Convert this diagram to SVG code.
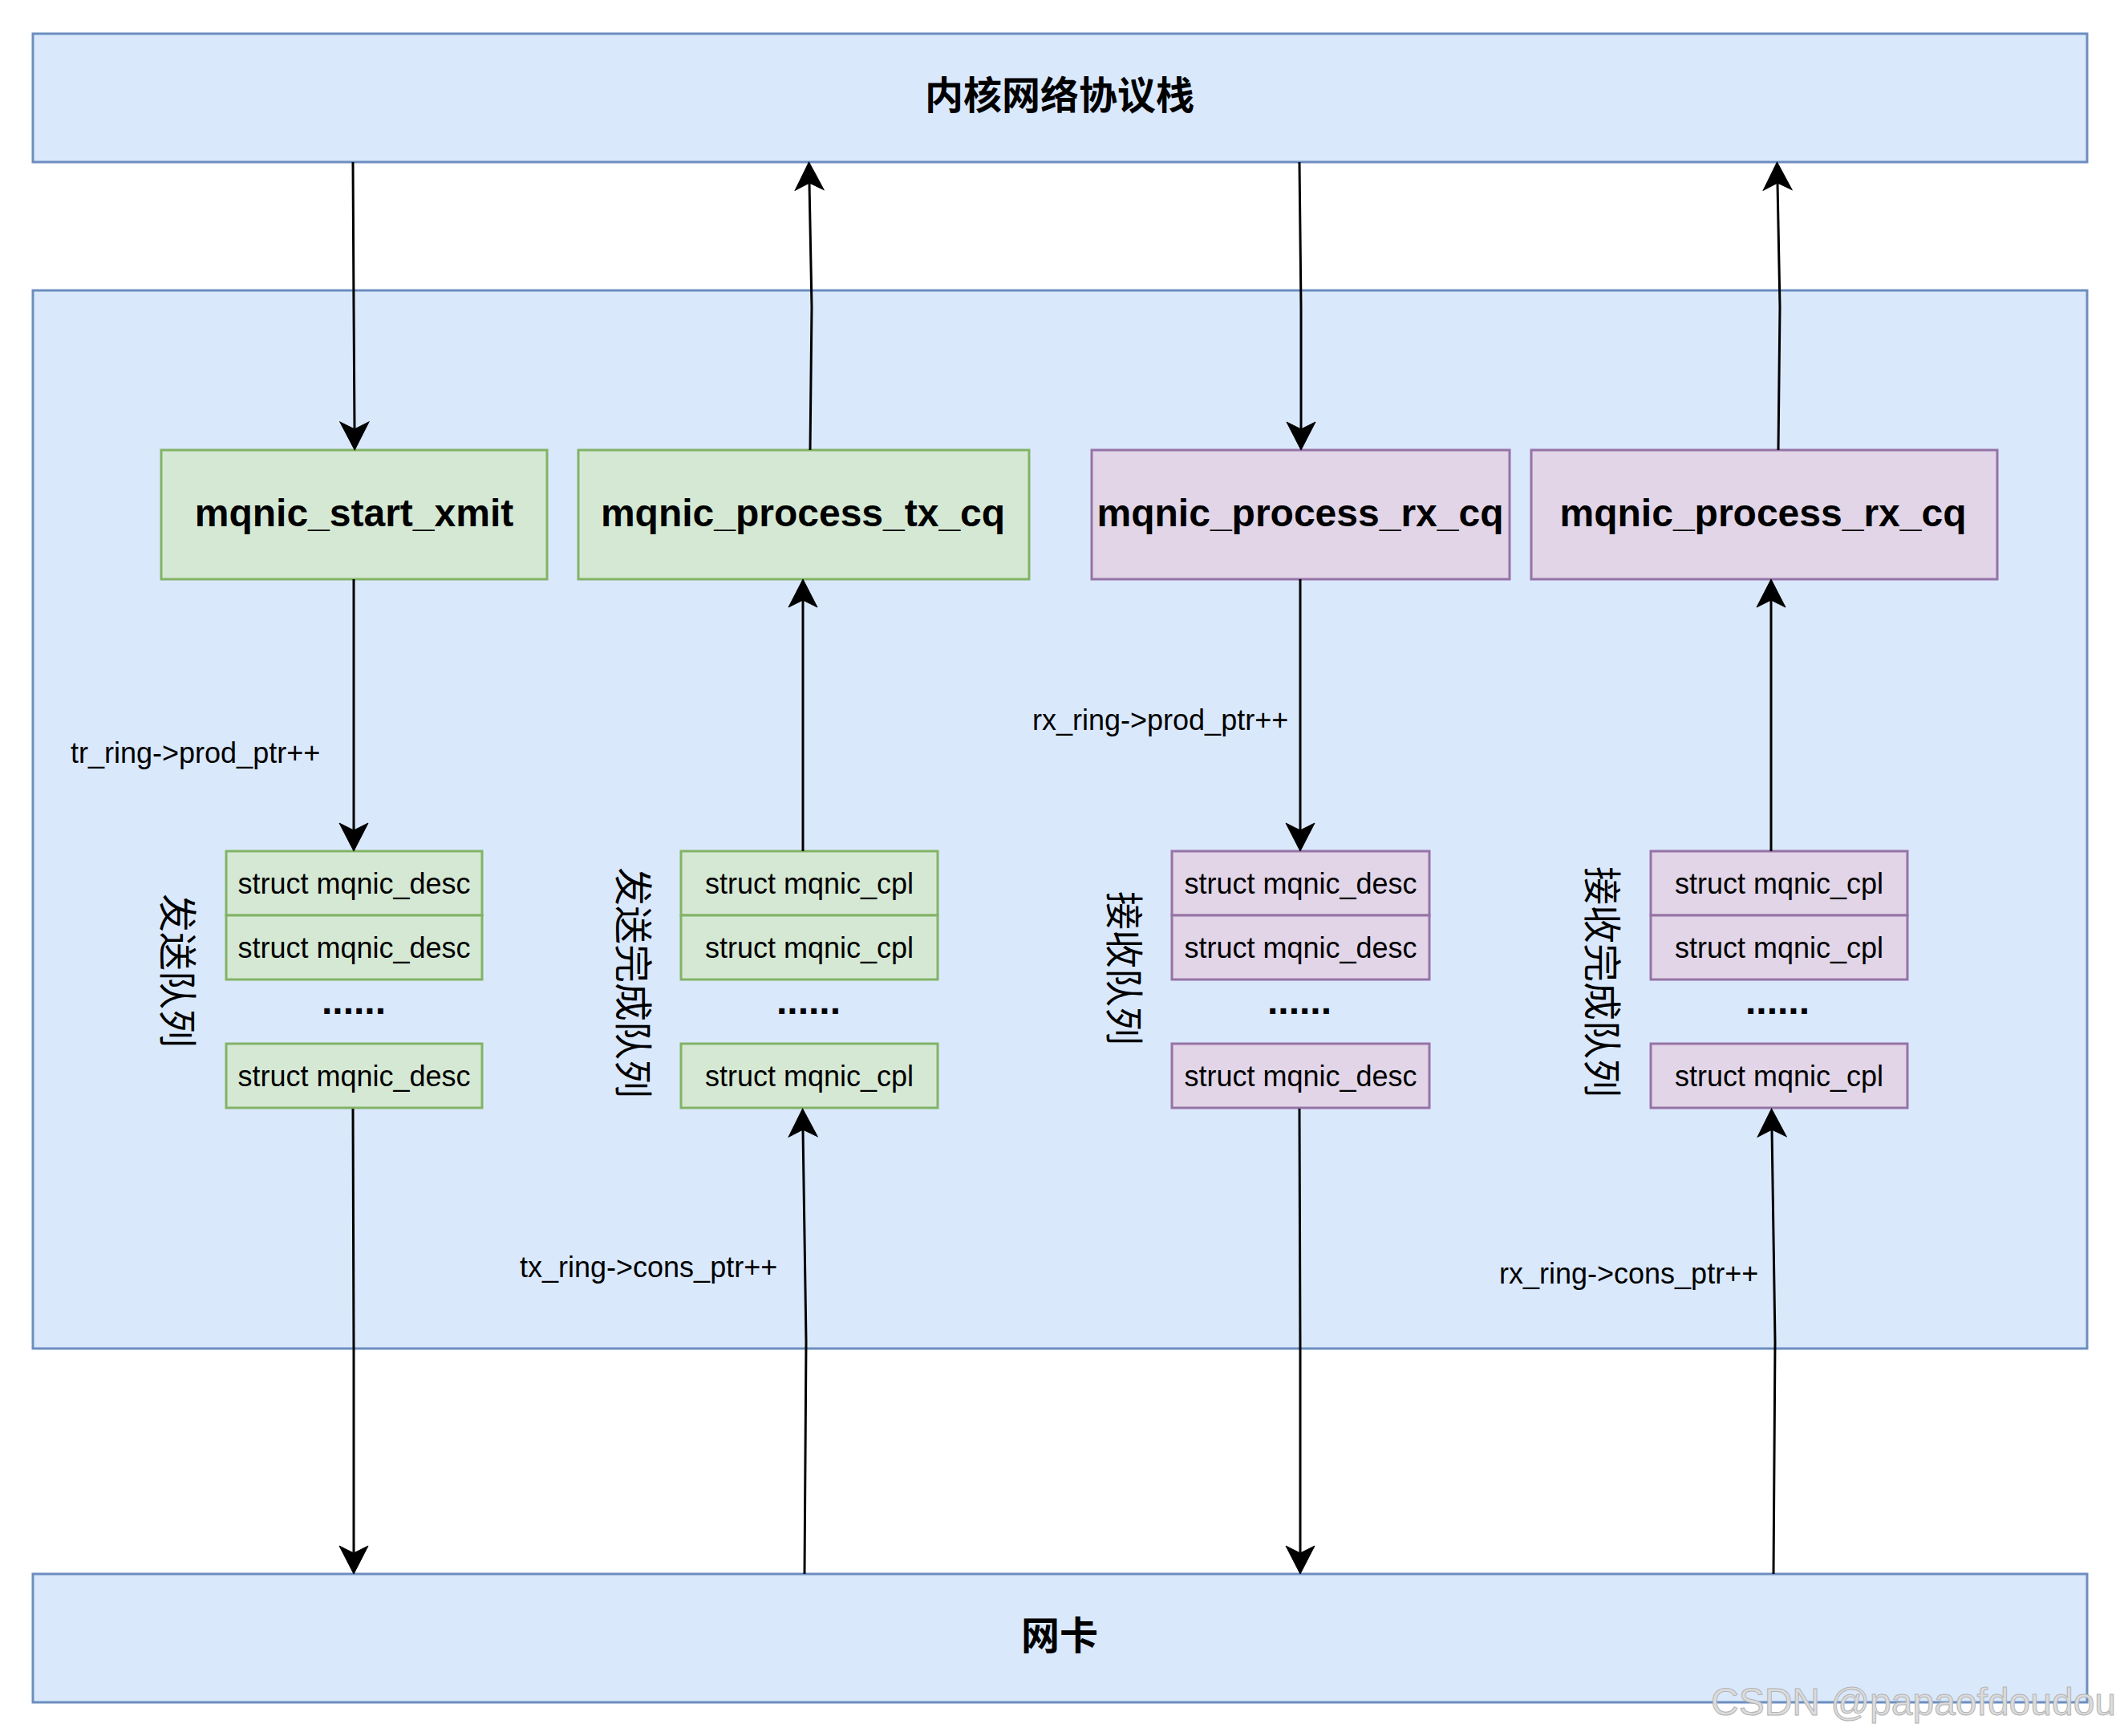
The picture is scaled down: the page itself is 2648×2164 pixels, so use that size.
<svg xmlns="http://www.w3.org/2000/svg" width="2648" height="2164" viewBox="0 0 2648 2164">
<style>
.blue{fill:#dae8fc;stroke:#6c8ebf;stroke-width:3}
.green{fill:#d5e8d4;stroke:#82b366;stroke-width:3}
.purple{fill:#e1d5e7;stroke:#9673a6;stroke-width:3}
.big{font-family:"Liberation Sans",Arial,sans-serif;font-size:48px;font-weight:bold;fill:#000;text-anchor:middle}
.cjkb{font-family:"Liberation Sans","Noto Sans CJK SC",sans-serif;font-size:48px;font-weight:bold;fill:#000;text-anchor:middle}
.cjk{font-family:"Liberation Sans","Noto Sans CJK SC",sans-serif;font-size:48px;fill:#000;text-anchor:middle}
.st{font-family:"Liberation Sans",Arial,sans-serif;font-size:36px;fill:#000;text-anchor:middle}
.lbl{font-family:"Liberation Sans",Arial,sans-serif;font-size:36px;fill:#000}
.dots{font-family:"Liberation Sans",Arial,sans-serif;font-size:48px;font-weight:bold;fill:#000;text-anchor:middle}
.edge{fill:none;stroke:#000;stroke-width:3}
.wm{font-family:"Liberation Sans",Arial,sans-serif;font-size:48px;fill:#dcdcdc;stroke:#b4b4b4;stroke-width:1}
</style>
<defs>
<marker id="arr" markerUnits="userSpaceOnUse" viewBox="-36 -19 38 38" markerWidth="38" markerHeight="38" refX="-26" refY="0" orient="auto">
<path d="M0,0 L-35,-18 L-26,0 L-35,18 Z" fill="#000" stroke="#000" stroke-width="1"/>
</marker>
</defs>
<rect width="2648" height="2164" fill="#fff"/>
<g id="kernel-stack">
<rect class="blue" x="41" y="42" width="2561" height="160"/>
<text class="cjkb" x="1321" y="136">内核网络协议栈</text>
</g>
<g id="driver">
<rect class="blue" x="41" y="362" width="2561" height="1319"/>
</g>
<g id="nic">
<rect class="blue" x="41" y="1962" width="2561" height="160"/>
<text class="cjkb" x="1321" y="2056">网卡</text>
</g>
<g id="start-xmit">
<rect class="green" x="201" y="561" width="481" height="161"/>
<text class="big" x="441.5" y="656">mqnic_start_xmit</text>
</g>
<g id="process-tx-cq">
<rect class="green" x="721" y="561" width="562" height="161"/>
<text class="big" x="1001" y="656">mqnic_process_tx_cq</text>
</g>
<g id="process-rx-cq-1">
<rect class="purple" x="1361" y="561" width="521" height="161"/>
<text class="big" x="1621" y="656">mqnic_process_rx_cq</text>
</g>
<g id="process-rx-cq-2">
<rect class="purple" x="1909" y="561" width="581" height="161"/>
<text class="big" x="2198" y="656">mqnic_process_rx_cq</text>
</g>
<g id="tx-queue">
<rect class="green" x="282" y="1061" width="319" height="80"/>
<text class="st" x="441.5" y="1114">struct mqnic_desc</text>
<rect class="green" x="282" y="1141" width="319" height="80"/>
<text class="st" x="441.5" y="1194">struct mqnic_desc</text>
<text class="dots" x="441" y="1264">......</text>
<rect class="green" x="282" y="1301" width="319" height="80"/>
<text class="st" x="441.5" y="1354">struct mqnic_desc</text>
<text class="cjk" transform="translate(222,1210) rotate(90)" x="0" y="18">发送队列</text>
</g>
<g id="tx-cpl-queue">
<rect class="green" x="849" y="1061" width="320" height="80"/>
<text class="st" x="1009" y="1114">struct mqnic_cpl</text>
<rect class="green" x="849" y="1141" width="320" height="80"/>
<text class="st" x="1009" y="1194">struct mqnic_cpl</text>
<text class="dots" x="1008" y="1264">......</text>
<rect class="green" x="849" y="1301" width="320" height="80"/>
<text class="st" x="1009" y="1354">struct mqnic_cpl</text>
<text class="cjk" transform="translate(790,1225) rotate(90)" x="0" y="18">发送完成队列</text>
</g>
<g id="rx-queue">
<rect class="purple" x="1461" y="1061" width="321" height="80"/>
<text class="st" x="1621.5" y="1114">struct mqnic_desc</text>
<rect class="purple" x="1461" y="1141" width="321" height="80"/>
<text class="st" x="1621.5" y="1194">struct mqnic_desc</text>
<text class="dots" x="1620" y="1264">......</text>
<rect class="purple" x="1461" y="1301" width="321" height="80"/>
<text class="st" x="1621.5" y="1354">struct mqnic_desc</text>
<text class="cjk" transform="translate(1402,1207) rotate(90)" x="0" y="18">接收队列</text>
</g>
<g id="rx-cpl-queue">
<rect class="purple" x="2058" y="1061" width="320" height="80"/>
<text class="st" x="2218" y="1114">struct mqnic_cpl</text>
<rect class="purple" x="2058" y="1141" width="320" height="80"/>
<text class="st" x="2218" y="1194">struct mqnic_cpl</text>
<text class="dots" x="2216" y="1264">......</text>
<rect class="purple" x="2058" y="1301" width="320" height="80"/>
<text class="st" x="2218" y="1354">struct mqnic_cpl</text>
<text class="cjk" transform="translate(1998,1224) rotate(90)" x="0" y="18">接收完成队列</text>
</g>
<g id="connectors">
<path class="edge" marker-end="url(#arr)" d="M440,202 L441,383 L442,535"/>
<path class="edge" marker-end="url(#arr)" d="M1010,561 L1012,383 L1009,228"/>
<path class="edge" marker-end="url(#arr)" d="M1620,202 L1622,383 L1622,535"/>
<path class="edge" marker-end="url(#arr)" d="M2217,561 L2219,383 L2216,228"/>
<path class="edge" marker-end="url(#arr)" d="M441,722 L441,1035"/>
<path class="edge" marker-end="url(#arr)" d="M1001,1061 L1001,748"/>
<path class="edge" marker-end="url(#arr)" d="M1621,722 L1621,1035"/>
<path class="edge" marker-end="url(#arr)" d="M2208,1061 L2208,748"/>
<path class="edge" marker-end="url(#arr)" d="M440,1382 L441,1680 L441,1936"/>
<path class="edge" marker-end="url(#arr)" d="M1003,1962 L1005,1672 L1001,1408"/>
<path class="edge" marker-end="url(#arr)" d="M1620,1382 L1621,1680 L1621,1936"/>
<path class="edge" marker-end="url(#arr)" d="M2211,1962 L2213,1672 L2209,1408"/>
</g>
<g id="labels">
<text class="lbl" x="88" y="951">tr_ring-&gt;prod_ptr++</text>
<text class="lbl" x="1287" y="910">rx_ring-&gt;prod_ptr++</text>
<text class="lbl" x="648" y="1592">tx_ring-&gt;cons_ptr++</text>
<text class="lbl" x="1869" y="1600">rx_ring-&gt;cons_ptr++</text>
</g>
<text class="wm" x="2133" y="2138">CSDN @papaofdoudou</text>
</svg>
